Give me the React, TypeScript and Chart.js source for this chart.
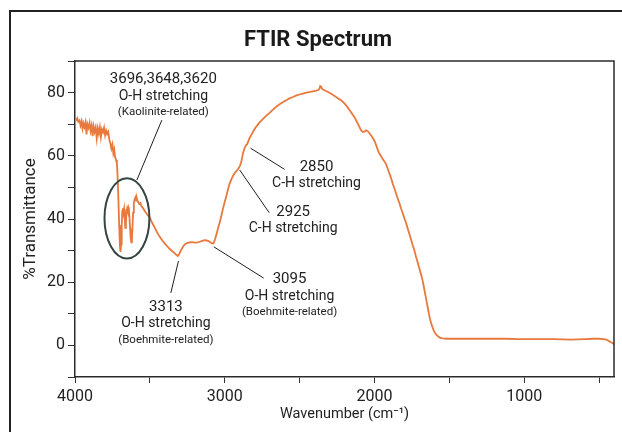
import React, { useEffect, useRef } from "react";
import { Chart, registerables } from "chart.js";

Chart.register(...registerables);

// ---- Data ----
const wavenumbers = [
  4000, 3992, 3985, 3978, 3970, 3963, 3956, 3950, 3944, 3937, 3930, 3923, 3917, 3910, 3903, 3896, 3889, 3882, 3876, 3869,
  3862, 3855, 3848, 3841, 3834, 3827, 3820, 3813, 3806, 3799, 3792, 3785, 3778, 3771, 3764, 3757, 3750, 3744, 3738, 3732,
  3726, 3720, 3715, 3710, 3705, 3700, 3696, 3692, 3688, 3684, 3680, 3676, 3672, 3668, 3664, 3660, 3656, 3652, 3648, 3644,
  3640, 3636, 3632, 3628, 3624, 3620, 3616, 3612, 3607, 3602, 3597, 3592, 3587, 3582, 3576, 3570, 3563, 3556, 3548, 3540,
  3530, 3520, 3510, 3500, 3485, 3467, 3450, 3433, 3415, 3400, 3383, 3367, 3350, 3335, 3322, 3313, 3305, 3297, 3289, 3278,
  3268, 3256, 3240, 3225, 3211, 3195, 3180, 3167, 3150, 3135, 3122, 3108, 3095, 3085, 3075, 3065, 3055, 3045, 3033, 3020,
  3010, 2998, 2989, 2978, 2967, 2955, 2944, 2932, 2925, 2915, 2905, 2897, 2889, 2880, 2872, 2864, 2856, 2850, 2844, 2835,
  2825, 2811, 2795, 2780, 2767, 2744, 2722, 2700, 2678, 2656, 2633, 2610, 2589, 2567, 2545, 2520, 2500, 2478, 2455, 2430,
  2410, 2389, 2375, 2367, 2362, 2357, 2351, 2344, 2327, 2310, 2295, 2278, 2262, 2245, 2228, 2211, 2195, 2180, 2168, 2156,
  2143, 2130, 2120, 2111, 2102, 2094, 2086, 2078, 2070, 2063, 2056, 2050, 2042, 2035, 2025, 2018, 2011, 2003, 1995, 1988,
  1980, 1973, 1967, 1958, 1950, 1940, 1930, 1922, 1912, 1903, 1895, 1886, 1878, 1868, 1860, 1850, 1840, 1833, 1822, 1812,
  1800, 1789, 1778, 1767, 1756, 1745, 1733, 1722, 1711, 1700, 1689, 1678, 1668, 1660, 1652, 1644, 1636, 1628, 1620, 1611,
  1603, 1595, 1587, 1578, 1568, 1555, 1540, 1522, 1480, 1420, 1350, 1280, 1200, 1120, 1040, 960, 880, 800, 740, 690,
  640, 590, 540, 500, 470, 450, 435, 420, 410, 400,
];

const transmittance = [
  72.0, 71.4, 71.9, 70.8, 71.2, 69.6, 70.9, 68.7, 70.3, 69.1, 70.6, 66.8, 70.0, 68.9, 70.4, 67.9, 69.6, 66.2, 69.3, 67.6,
  69.0, 65.6, 68.7, 67.0, 69.0, 66.0, 68.4, 67.5, 68.9, 66.5, 68.0, 66.9, 67.6, 65.2, 64.0, 62.3, 63.6, 60.8, 62.0, 59.6,
  58.7, 57.5, 53.0, 46.0, 38.0, 31.5, 29.6, 32.0, 38.0, 42.5, 43.4, 42.0, 43.2, 40.5, 37.2, 38.8, 42.0, 43.2, 42.5, 43.6,
  42.8, 40.2, 37.0, 34.0, 32.6, 33.5, 37.5, 42.0, 45.0, 46.2, 46.8, 45.8, 46.5, 45.6, 45.2, 44.7, 45.0, 44.0, 43.6, 43.0,
  42.2, 41.6, 41.0, 40.4, 38.8, 37.2, 35.6, 34.3, 33.1, 32.2, 31.3, 30.5, 29.8, 29.2, 28.6, 28.3, 28.8, 29.7, 30.4, 31.3,
  31.9, 32.3, 32.5, 32.7, 32.6, 32.5, 32.6, 32.8, 33.1, 33.3, 33.2, 33.0, 32.6, 32.3, 32.3, 33.5, 35.2, 37.0, 39.0, 41.5,
  43.6, 45.8, 47.3, 49.4, 51.2, 52.6, 53.7, 54.6, 55.0, 55.6, 56.2, 57.0, 58.2, 60.3, 61.8, 62.8, 63.5, 63.7, 64.4, 65.5,
  66.4, 67.6, 68.9, 69.8, 70.6, 71.7, 72.7, 73.6, 74.6, 75.5, 76.3, 77.0, 77.6, 78.2, 78.6, 79.1, 79.4, 79.7, 80.0, 80.2,
  80.4, 80.6, 80.8, 81.3, 82.1, 81.9, 81.3, 81.0, 80.6, 80.2, 79.8, 79.3, 78.8, 78.2, 77.7, 77.1, 76.3, 75.4, 74.6, 73.8,
  72.9, 71.9, 71.0, 70.2, 69.3, 68.5, 67.9, 67.6, 67.6, 67.8, 68.1, 68.0, 67.6, 67.2, 66.6, 66.2, 65.6, 65.0, 64.2, 63.3,
  62.2, 61.3, 60.7, 60.0, 59.4, 58.7, 58.0, 57.3, 56.0, 54.8, 53.8, 52.5, 51.2, 49.8, 48.8, 47.2, 45.9, 45.0, 43.3, 42.0,
  40.2, 38.8, 37.0, 35.3, 33.6, 31.8, 30.0, 28.0, 26.2, 24.3, 22.5, 20.5, 18.0, 16.0, 14.0, 12.0, 9.9, 8.2, 6.8, 5.6,
  4.6, 3.9, 3.4, 3.0, 2.6, 2.3, 2.2, 2.1, 2.1, 2.1, 2.1, 2.1, 2.1, 2.1, 2.0, 2.0, 2.0, 2.0, 1.9, 1.8,
  1.9, 2.0, 2.1, 2.1, 2.0, 1.8, 1.4, 1.0, 0.7, 0.5,
];

const xTickValues = [4000, 3500, 3000, 2500, 2000, 1500, 1000, 500];
const xTickLabels = ["4000", "", "3000", "", "2000", "", "1000", ""];
const yTickValues = [-10, 0, 10, 20, 30, 40, 50, 60, 70, 80, 90];
const yTickLabels = ["", "0", "", "20", "", "40", "", "60", "", "80", ""];

const chartTitle = "FTIR Spectrum";
const xAxisTitle = "Wavenumber (cm\u207B\u00B9)";
const yAxisTitle = "%Transmittance";

// annotation texts
const noteKaolinite = ["3696,3648,3620", "O-H stretching", "(Kaolinite-related)"];
const note3313 = ["3313", "O-H stretching", "(Boehmite-related)"];
const note3095 = ["3095", "O-H stretching", "(Boehmite-related)"];
const note2925 = ["2925", "C-H stretching"];
const note2850 = ["2850", "C-H stretching"];

// annotation placement (in data units: wavenumber, %T)
const notePlacement = [
  { lines: noteKaolinite, textX: 3410, textY: [84.3, 78.9, 73.7], from: [3587, 52.3], to: [3420, 71.3] },
  { lines: note3313, textX: 3393, textY: [12.2, 7.0, 1.6], from: [3309, 26.7], to: [3360, 16.6] },
  { lines: note3095, textX: 2567, textY: [21.0, 15.6, 10.5], from: [3073, 31.2], to: [2740, 21.3] },
  { lines: note2925, textX: 2543, textY: [42.2, 37.1], from: [2900, 55.5], to: [2703, 42.0] },
  { lines: note2850, textX: 2387, textY: [56.5, 51.3], from: [2827, 62.4], to: [2600, 55.7] },
];
const ellipseNote = { w: 3653, t: 40.2, rw: 150, rt: 12.7 };

const REG = "Roboto, 'Liberation Sans', sans-serif";
const lineFonts = [`15px ${REG}`, `14px ${REG}`, `11.5px ${REG}`];

const notesPlugin = {
  id: "ftirNotes",
  afterDraw(chart: any) {
    const { ctx, chartArea: a, scales } = chart;
    const xs = scales.x;
    const ys = scales.y;
    const px = (w: number) => xs.getPixelForValue(w);
    const py = (t: number) => ys.getPixelForValue(t);
    ctx.save();
    // plot frame (top & right)
    ctx.strokeStyle = "#2b2b2b";
    ctx.lineWidth = 1.5;
    ctx.beginPath();
    ctx.moveTo(a.left, a.top);
    ctx.lineTo(a.right, a.top);
    ctx.lineTo(a.right, a.bottom);
    ctx.stroke();
    // ellipse
    const cx = px(ellipseNote.w);
    const cy = py(ellipseNote.t);
    const rx = Math.abs(px(ellipseNote.w + ellipseNote.rw) - cx);
    const ry = Math.abs(py(ellipseNote.t + ellipseNote.rt) - cy);
    ctx.strokeStyle = "#354545";
    ctx.lineWidth = 2;
    ctx.beginPath();
    ctx.ellipse(cx, cy, rx, ry, 0, 0, Math.PI * 2);
    ctx.stroke();
    // leaders & labels
    for (const n of notePlacement) {
      ctx.strokeStyle = "#1e1e1e";
      ctx.lineWidth = 1;
      ctx.beginPath();
      ctx.moveTo(px(n.from[0]), py(n.from[1]));
      ctx.lineTo(px(n.to[0]), py(n.to[1]));
      ctx.stroke();
      ctx.fillStyle = "#222";
      ctx.textAlign = "center";
      ctx.textBaseline = "middle";
      n.lines.forEach((s, i) => {
        ctx.font = lineFonts[i];
        ctx.fillText(s, px(n.textX), py(n.textY[i]));
      });
    }
    ctx.restore();
  },
};

export default function App() {
  const ref = useRef<HTMLCanvasElement>(null);
  useEffect(() => {
    const canvas = ref.current;
    if (!canvas) return;
    const points = wavenumbers.map((w, i) => ({ x: w, y: transmittance[i] }));
    const chart = new Chart(canvas, {
      type: "line",
      data: {
        datasets: [
          {
            data: points,
            borderColor: "#e8783b",
            borderWidth: 1.8,
            pointRadius: 0,
            fill: false,
            tension: 0,
          },
        ],
      },
      options: {
        responsive: false,
        animation: false,
        devicePixelRatio: 1,
        layout: { padding: { left: 22, right: 8, top: 0, bottom: 0 } },
        plugins: {
          legend: { display: false },
          tooltip: { enabled: false },
          title: {
            display: true,
            text: chartTitle,
            color: "#1a1a1a",
            font: { family: REG, size: 22, weight: "bold", lineHeight: 1.2 },
            padding: { top: 27, bottom: 7.6 },
          },
        },
        scales: {
          x: {
            type: "linear",
            min: 400,
            max: 4000,
            reverse: true,
            afterBuildTicks: (s: any) => {
              s.ticks = xTickValues.map((v) => ({ value: v }));
            },
            afterFit: (s: any) => {
              s.height = 55;
            },
            ticks: {
              autoSkip: false,
              maxRotation: 0,
              padding: 4,
              color: "#222",
              font: { family: REG, size: 16 },
              callback: (v: any) => {
                const i = xTickValues.indexOf(Number(v));
                return i >= 0 ? xTickLabels[i] : "";
              },
            },
            grid: { display: true, drawOnChartArea: false, drawTicks: true, tickLength: 6, color: "#333", lineWidth: 1 },
            border: { display: true, color: "#2b2b2b", width: 1.5 },
            title: {
              display: true,
              text: xAxisTitle,
              color: "#222",
              font: { family: REG, size: 14.5, lineHeight: 1.2 },
              padding: { top: 0, bottom: 9 },
            },
          },
          y: {
            type: "linear",
            min: -10,
            max: 90,
            afterBuildTicks: (s: any) => {
              s.ticks = yTickValues.map((v) => ({ value: v }));
            },
            afterFit: (s: any) => {
              s.width = 53;
            },
            ticks: {
              autoSkip: false,
              padding: 3,
              color: "#222",
              font: { family: REG, size: 16 },
              callback: (v: any) => {
                const i = yTickValues.indexOf(Number(v));
                return i >= 0 ? yTickLabels[i] : "";
              },
            },
            grid: { display: true, drawOnChartArea: false, drawTicks: true, tickLength: 7, color: "#333", lineWidth: 1 },
            border: { display: true, color: "#2b2b2b", width: 1.5 },
            title: {
              display: true,
              text: yAxisTitle,
              color: "#222",
              font: { family: REG, size: 17, lineHeight: 1 },
              padding: { top: 0, bottom: 0 },
            },
          },
        },
      },
      plugins: [notesPlugin],
    } as any);
    return () => chart.destroy();
  }, []);

  return (
    <div>
      <div
        style={{
          position: "absolute",
          left: 9,
          top: 10,
          width: 613,
          height: 422,
          boxSizing: "border-box",
          borderLeft: "2px solid #222",
          borderTop: "2px solid #222",
        }}
      />
      <canvas
        ref={ref}
        width={622}
        height={432}
        style={{ position: "absolute", left: 0, top: 0, width: 622, height: 432 }}
      />
    </div>
  );
}
